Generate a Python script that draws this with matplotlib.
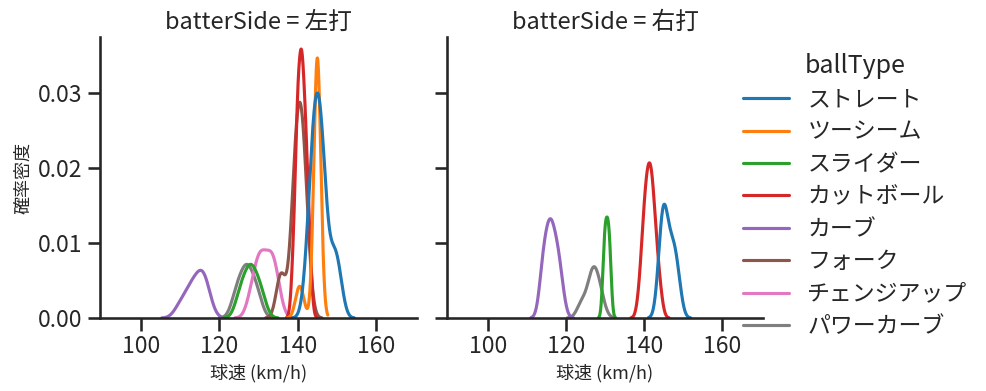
import numpy as np
import pandas as pd
import matplotlib
matplotlib.use("Agg")
import matplotlib.pyplot as plt
import seaborn as sns

ball_types = ["ストレート", "ツーシーム", "スライダー", "カットボール", "カーブ",
              "フォーク", "チェンジアップ", "パワーカーブ"]
sides = ["左打", "右打"]

# --- pitch speeds (km/h) and how often each was thrown ---
# vs left-handed batters (左打)
l_straight_speed = [142, 143, 144, 145, 146, 147, 148, 149, 150, 151]
l_straight_count = [1, 3, 6, 6, 6, 3, 1, 2, 2, 1]
l_twoseam_speed = [140, 141, 145]
l_twoseam_count = [1, 1, 14]
l_slider_speed = [125, 126, 127, 128, 129, 130, 131]
l_slider_count = [1, 1, 1, 2, 1, 1, 1]
l_cutter_speed = [139, 140, 141, 142, 143]
l_cutter_count = [2, 6, 7, 5, 2]
l_curve_speed = [110, 112, 113, 114, 115, 116, 117]
l_curve_count = [1, 1, 1, 1, 1, 2, 1]
l_fork_speed = [135, 136, 138, 139, 140, 141, 142, 143]
l_fork_count = [1, 2, 1, 4, 6, 6, 4, 1]
l_changeup_speed = [128, 129, 130, 131, 132, 133, 134, 135]
l_changeup_count = [1, 1, 2, 2, 1, 2, 2, 1]
l_powercurve_speed = [124, 125, 126, 127, 128, 129, 130]
l_powercurve_count = [1, 1, 1, 2, 1, 1, 1]

# vs right-handed batters (右打)
r_straight_speed = [144, 145, 146, 147, 148, 149]
r_straight_count = [2, 4, 2, 2, 2, 1]
r_slider_speed = [129.7, 130.1, 130.5, 130.9, 131.3]
r_slider_count = [1, 1, 1, 1, 1]
r_cutter_speed = [139, 140, 141, 142, 143, 144]
r_cutter_count = [1, 3, 4, 4, 2, 1]
r_curve_speed = [114, 115, 116, 117, 118, 119]
r_curve_count = [2, 2, 3, 2, 2, 1]
r_powercurve_speed = [124, 126, 127, 128, 129]
r_powercurve_count = [1, 1, 2, 1, 1]

groups = [
    ("左打", "ストレート", l_straight_speed, l_straight_count),
    ("左打", "ツーシーム", l_twoseam_speed, l_twoseam_count),
    ("左打", "スライダー", l_slider_speed, l_slider_count),
    ("左打", "カットボール", l_cutter_speed, l_cutter_count),
    ("左打", "カーブ", l_curve_speed, l_curve_count),
    ("左打", "フォーク", l_fork_speed, l_fork_count),
    ("左打", "チェンジアップ", l_changeup_speed, l_changeup_count),
    ("左打", "パワーカーブ", l_powercurve_speed, l_powercurve_count),
    ("右打", "ストレート", r_straight_speed, r_straight_count),
    ("右打", "スライダー", r_slider_speed, r_slider_count),
    ("右打", "カットボール", r_cutter_speed, r_cutter_count),
    ("右打", "カーブ", r_curve_speed, r_curve_count),
    ("右打", "パワーカーブ", r_powercurve_speed, r_powercurve_count),
]

rows = []
for side, bt, sp, ct in groups:
    for v in np.repeat(sp, ct):
        rows.append({"batterSide": side, "ballType": bt, "球速": float(v)})
df = pd.DataFrame(rows)

sns.set_theme(style="ticks", context="talk")
plt.rcParams["font.family"] = ["Noto Sans CJK JP", "DejaVu Sans"]

g = sns.displot(df, x="球速", hue="ballType", col="batterSide", kind="kde",
                hue_order=ball_types, col_order=sides, palette="tab10")
fig = g.figure
fig.set_size_inches(9.87, 3.91)
g.set_titles("batterSide = {col_name}")
ax_l, ax_r = g.axes.flat
ax_l.set_position([100 / 987, 73 / 391, 317 / 987, 281 / 391])
ax_r.set_position([447 / 987, 73 / 391, 316 / 987, 281 / 391])
for ax in (ax_l, ax_r):
    ax.set_xlim(89.6, 170.4)
    ax.set_ylim(0, 0.0375)
    ax.set_xticks([100, 120, 140, 160])
    ax.set_xlabel("球速 (km/h)", fontsize=13)
    ax.title.set_fontsize(17)
ax_l.set_yticks([0, 0.01, 0.02, 0.03])
ax_l.set_ylabel("確率密度", fontsize=13)
ax_r.set_ylabel("")

sns.move_legend(g, "center left", bbox_to_anchor=(0.732, 0.5), frameon=False,
                labelspacing=0.41)

fig.savefig("out.png", dpi=100)
